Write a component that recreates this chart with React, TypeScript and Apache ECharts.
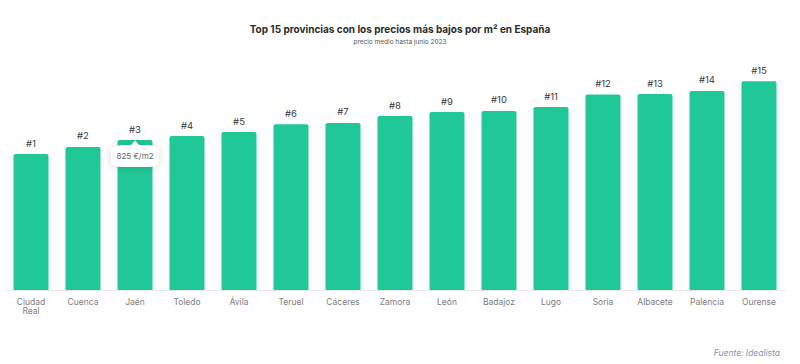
import React, { useEffect, useRef } from "react";
import * as echarts from "echarts";

const categories = [
  "Ciudad\nReal", "Cuenca", "Jaén", "Toledo", "Ávila", "Teruel", "Cáceres", "Zamora",
  "León", "Badajoz", "Lugo", "Soria", "Albacete", "Palencia", "Ourense",
];
const prices = [748, 787, 825, 847, 869, 912, 919, 957, 979, 985, 1006, 1076, 1078, 1095, 1149];
const rankLabels = ["#1", "#2", "#3", "#4", "#5", "#6", "#7", "#8", "#9", "#10", "#11", "#12", "#13", "#14", "#15"];
const highlightIndex = 2;
const unit = "€/m2";
const titleText = "Top 15 provincias con los precios más bajos por m² en España";
const subtitleText = "precio medio hasta junio 2023";
const sourceText = "Fuente: Idealista";

const FONT = "Inter, 'Noto Sans', sans-serif";

export default function App() {
  const ref = useRef<HTMLDivElement>(null);
  useEffect(() => {
    if (!ref.current) return;
    const chart = echarts.init(ref.current, null, { renderer: "svg" });
    chart.setOption({
      animation: false,
      backgroundColor: "#ffffff",
      textStyle: { fontFamily: FONT },
      title: [
        {
          text: titleText,
          left: "center",
          top: 19,
          textStyle: { fontSize: 10, fontWeight: "bold", color: "#2b2b2b", fontFamily: FONT },
        },
        {
          text: subtitleText,
          left: "center",
          top: 33,
          textStyle: { fontSize: 6.5, fontWeight: "normal", color: "#555", fontFamily: FONT },
        },
        {
          text: sourceText,
          right: 15,
          top: 343,
          textStyle: { fontSize: 8.5, fontStyle: "italic", fontWeight: "normal", color: "#8a94aa", fontFamily: FONT },
        },
      ],
      grid: { left: 5, right: 15, top: 35.5, bottom: 74, containLabel: false },
      xAxis: {
        type: "category",
        data: categories,
        axisLine: { lineStyle: { color: "#e8e8e8", width: 1 } },
        axisTick: { show: false },
        axisLabel: { interval: 0, color: "#808080", fontSize: 8.5, lineHeight: 9.5, margin: 7, fontFamily: FONT },
      },
      yAxis: {
        type: "value",
        min: 0,
        max: 1400,
        show: false,
        splitLine: { show: false },
      },
      series: [
        {
          type: "bar",
          data: prices,
          barWidth: 35,
          itemStyle: { color: "#21c897", borderRadius: [2, 2, 0, 0] },
          label: {
            show: true,
            position: "top",
            distance: 6,
            fontSize: 9.5,
            color: "#3a3a3a",
            fontFamily: FONT,
            formatter: (p: any) => rankLabels[p.dataIndex],
          },
          markPoint: {
            silent: true,
            data: [
              {
                coord: [highlightIndex, prices[highlightIndex]],
                symbol: "roundRect",
                symbolSize: [48, 22],
                symbolOffset: [0, 16],
                itemStyle: { color: "#ffffff", shadowBlur: 8, shadowColor: "rgba(0,0,0,0.15)", shadowOffsetY: 1 },
                label: {
                  show: true,
                  position: "inside",
                  offset: [0, 0],
                  formatter: `${prices[highlightIndex]} ${unit}`,
                  color: "#666",
                  fontSize: 8,
                  fontFamily: FONT,
                },
              },
              {
                coord: [highlightIndex, prices[highlightIndex]],
                symbol: "triangle",
                symbolSize: [9, 5],
                symbolOffset: [0, 3],
                itemStyle: { color: "#ffffff" },
                label: { show: false },
              },
            ],
          },
        },
      ],
    });
    return () => chart.dispose();
  }, []);
  return (
    <div
      ref={ref}
      style={{ position: "fixed", left: 0, top: 0, width: 800, height: 364, background: "#fff" }}
    />
  );
}
